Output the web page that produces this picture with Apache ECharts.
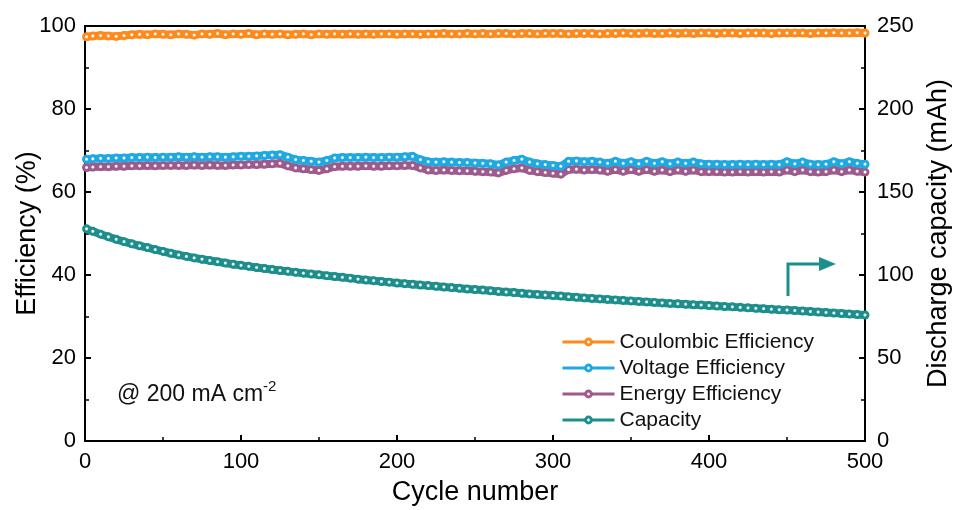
<!DOCTYPE html>
<html>
<head>
<meta charset="utf-8">
<script src="https://cdn.jsdelivr.net/npm/echarts@6/dist/echarts.min.js"></script>
<style>html,body{margin:0;padding:0;background:#fff}#c{width:957px;height:510px}</style>
</head>
<body>
<div id="c"></div>
<script>
var cycles = [1,5,10,15,20,25,30,35,40,45,
  50,55,60,65,70,75,80,85,90,95,
  100,105,110,115,120,125,130,135,140,145,
  150,155,160,165,170,175,180,185,190,195,
  200,205,210,215,220,225,230,235,240,245,
  250,255,260,265,270,275,280,285,290,295,
  300,305,310,315,320,325,330,335,340,345,
  350,355,360,365,370,375,380,385,390,395,
  400,405,410,415,420,425,430,435,440,445,
  450,455,460,465,470,475,480,485,490,495,
  500];
var coulombic = [97.4,97.6,97.7,97.6,97.5,97.7,97.9,98.0,97.9,98.1,
  98.0,97.9,98.1,98.0,97.8,98.1,98.0,98.2,97.9,98.1,
  98.0,98.2,97.9,98.1,98.0,98.1,97.9,98.0,98.1,97.9,
  98.1,98.0,98.1,98.0,98.1,98.0,98.1,98.0,98.1,98.1,
  98.0,98.1,98.1,98.0,98.1,98.1,98.2,98.1,98.1,98.2,
  98.1,98.2,98.1,98.2,98.2,98.1,98.2,98.2,98.1,98.2,
  98.2,98.2,98.1,98.2,98.2,98.2,98.1,98.2,98.2,98.3,
  98.2,98.2,98.3,98.2,98.2,98.3,98.2,98.3,98.2,98.3,
  98.3,98.2,98.3,98.3,98.2,98.3,98.3,98.3,98.2,98.3,
  98.3,98.3,98.3,98.2,98.3,98.3,98.4,98.3,98.3,98.4,
  98.3];
var voltage = [67.9,68.0,68.1,68.1,68.2,68.2,68.3,68.3,68.4,68.3,
  68.4,68.4,68.5,68.4,68.5,68.4,68.5,68.5,68.4,68.5,
  68.6,68.6,68.7,68.8,68.9,69.0,68.4,67.8,67.6,67.4,
  67.2,67.6,68.2,68.3,68.3,68.3,68.4,68.3,68.3,68.4,
  68.4,68.5,68.6,67.8,67.3,67.2,67.3,67.2,67.1,67.1,
  67.0,66.9,66.8,66.5,67.2,67.6,67.9,67.2,66.8,66.6,
  66.4,66.2,67.4,67.5,67.3,67.4,67.2,66.9,67.4,66.9,
  67.3,66.8,67.4,66.9,67.3,66.8,67.2,66.9,67.2,66.8,
  66.7,66.7,66.6,66.6,66.7,66.6,66.7,66.6,66.7,66.6,
  67.3,66.8,67.2,66.7,66.6,66.7,67.3,66.8,67.3,66.9,
  66.7];
var energy = [65.9,66.0,66.1,66.1,66.2,66.2,66.3,66.3,66.4,66.3,
  66.4,66.4,66.4,66.4,66.5,66.4,66.5,66.4,66.4,66.5,
  66.5,66.6,66.6,66.7,66.8,66.9,66.3,65.8,65.6,65.4,
  65.2,65.6,66.1,66.2,66.2,66.2,66.3,66.2,66.2,66.3,
  66.3,66.4,66.4,65.8,65.3,65.2,65.3,65.2,65.1,65.1,
  65.0,64.9,64.8,64.6,65.2,65.6,65.8,65.2,64.9,64.7,
  64.5,64.3,65.4,65.5,65.3,65.4,65.3,65.0,65.4,65.0,
  65.4,65.0,65.4,65.0,65.3,64.9,65.3,65.0,65.3,64.9,
  64.9,64.9,64.8,64.8,64.9,64.8,64.9,64.8,64.9,64.8,
  65.3,64.9,65.3,64.9,64.8,64.9,65.3,64.9,65.3,65.0,
  64.8];
var capacity = [127.8,126.3,124.6,123.0,121.5,120.1,118.8,117.6,116.5,115.3,
  114.2,113.1,112.1,111.2,110.3,109.5,108.7,108.0,107.2,106.5,
  105.8,105.2,104.5,103.9,103.3,102.7,102.2,101.6,101.1,100.6,
  100.1,99.6,99.1,98.6,98.1,97.5,97.0,96.6,96.1,95.7,
  95.2,94.8,94.4,94.0,93.6,93.2,92.8,92.4,92.0,91.6,
  91.2,90.9,90.5,90.1,89.7,89.4,89.0,88.6,88.3,87.9,
  87.6,87.3,86.9,86.6,86.2,85.9,85.6,85.3,85.0,84.7,
  84.4,84.1,83.8,83.5,83.2,82.9,82.7,82.4,82.1,81.9,
  81.6,81.3,81.0,80.8,80.5,80.2,79.9,79.7,79.4,79.1,
  78.9,78.6,78.3,78.0,77.7,77.4,77.1,76.8,76.5,76.2,
  75.9];
var seriesNames = ['Coulombic Efficiency','Voltage Efficiency','Energy Efficiency','Capacity'];
var leftTicks = [0,20,40,60,80,100];
var rightTicks = [0,50,100,150,200,250];
var xTicks = [0,100,200,300,400,500];

var colors = ['#FF8A1C','#1EA9E2','#9C5B8B','#1C8F8C'];
function pairs(xs, ys){ return xs.map(function(x,i){ return [x, ys[i]]; }); }
function marker(c){
  return {type:'radial', x:0.5, y:0.5, r:0.5, colorStops:[
    {offset:0, color:'#ffffff'},{offset:0.18, color:'#ffffff'},{offset:0.45, color:c},{offset:1, color:c}]};
}
function mk(name, data, color, yIdx, z){
  return {name:name, type:'line', yAxisIndex:yIdx, data:data, z:z,
    symbol:'circle', symbolSize:9, showSymbol:true,
    lineStyle:{color:color, width:8},
    itemStyle:{color:marker(color), borderWidth:0},
    animation:false};
}
var font = 'Liberation Sans, Arial, sans-serif';
var chart = echarts.init(document.getElementById('c'), null, {renderer:'canvas'});
var option = {
  animation:false,
  backgroundColor:'#fff',
  textStyle:{fontFamily:font, color:'#000'},
  grid:{left:85, right:92, top:26, bottom:69, show:true, borderColor:'#000', borderWidth:2,
    backgroundColor:'transparent', containLabel:false, outerBoundsMode:'none'},
  legend:{
    orient:'vertical', left:556, top:326, itemWidth:52, itemHeight:11, itemGap:4,
    data:seriesNames,
    textStyle:{fontFamily:font, fontSize:21, color:'#111', lineHeight:22},
    lineStyle:{width:3}
  },
  xAxis:{
    type:'value', min:xTicks[0], max:xTicks[xTicks.length-1], interval:100,
    name:'Cycle number', nameLocation:'middle', nameGap:38,
    nameTextStyle:{fontSize:27, fontFamily:font, color:'#000'},
    axisLine:{show:true, lineStyle:{color:'#000', width:2}},
    axisTick:{show:true, inside:true, length:6, lineStyle:{color:'#000', width:2}},
    minorTick:{show:true, splitNumber:2, length:4, lineStyle:{color:'#000', width:1.5}},
    splitLine:{show:false},
    axisLabel:{fontSize:22, fontFamily:font, color:'#000', margin:10}
  },
  yAxis:[{
    type:'value', min:leftTicks[0], max:leftTicks[leftTicks.length-1], interval:20,
    name:'Efficiency (%)', nameLocation:'middle', nameGap:44, nameRotate:90, nameMoveOverlap:false,
    nameTextStyle:{fontSize:27, fontFamily:font, color:'#000'},
    axisLine:{show:true, lineStyle:{color:'#000', width:2}},
    axisTick:{show:true, inside:true, length:6, lineStyle:{color:'#000', width:2}},
    minorTick:{show:true, splitNumber:2, length:4, lineStyle:{color:'#000', width:1.5}},
    splitLine:{show:false},
    axisLabel:{fontSize:22, fontFamily:font, color:'#000', margin:9}
  },{
    type:'value', min:rightTicks[0], max:rightTicks[rightTicks.length-1], interval:50, position:'right',
    name:'Discharge capacity (mAh)', nameLocation:'middle', nameGap:59, nameRotate:90,
    nameTextStyle:{fontSize:27, fontFamily:font, color:'#000'},
    axisLine:{show:true, lineStyle:{color:'#000', width:2}},
    axisTick:{show:true, inside:true, length:6, lineStyle:{color:'#000', width:2}},
    minorTick:{show:true, splitNumber:2, length:4, lineStyle:{color:'#000', width:1.5}},
    splitLine:{show:false},
    axisLabel:{fontSize:22, fontFamily:font, color:'#000', margin:12}
  }],
  series:[
    mk(seriesNames[0], pairs(cycles, coulombic), colors[0], 0, 2),
    mk(seriesNames[1], pairs(cycles, voltage), colors[1], 0, 4),
    mk(seriesNames[2], pairs(cycles, energy), colors[2], 0, 3),
    mk(seriesNames[3], pairs(cycles, capacity), colors[3], 1, 2)
  ],
  graphic:[
    {type:'text', left:117, top:379, style:{
      text:'{a|@ 200 mA cm}{s|-2}', rich:{
        a:{fontSize:23, fontFamily:font, fill:'#111', lineHeight:27, verticalAlign:'bottom'},
        s:{fontSize:15, fontFamily:font, fill:'#111', lineHeight:27, verticalAlign:'top'}
      }}},
    {type:'polyline', shape:{points:[[788,296],[788,264],[821,264]]}, style:{stroke:colors[3], lineWidth:3, fill:null}},
    {type:'polygon', shape:{points:[[819,257],[836,264],[819,271]]}, style:{fill:colors[3]}}
  ]
};
chart.setOption(option);
</script>
</body>
</html>
